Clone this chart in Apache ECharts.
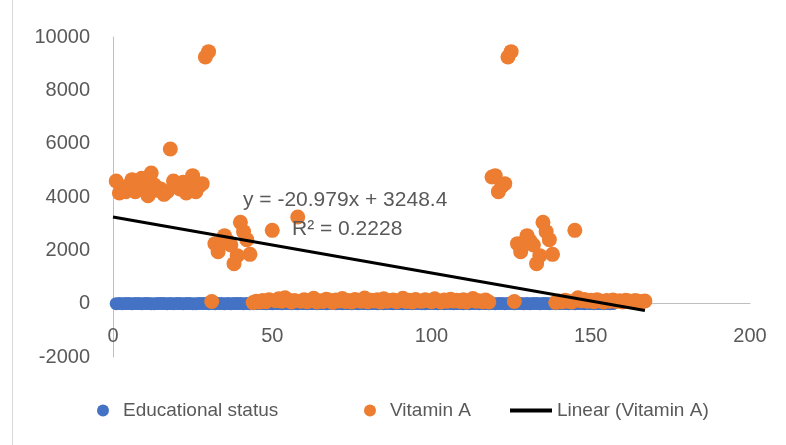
<!DOCTYPE html>
<html><head><meta charset="utf-8">
<script src="https://cdn.jsdelivr.net/npm/echarts@6/dist/echarts.min.js"></script>
<style>html,body{margin:0;padding:0;background:#fff}#c{width:786px;height:445px}</style>
</head><body><div id="c"></div>
<script>
const xTicks = [0, 50, 100, 150, 200];
const yTicks = [-2000, 0, 2000, 4000, 6000, 8000, 10000];
const educationalStatus = [
1,2,1,3,2,1,2,2,1,3, 2,1,1,2,3,2,1,2,1,2, 3,1,2,2,1,1,2,3,2,1,
2,1,3,2,1,2,1,2,2,3, 1,2,1,1,2,3,2,1,2,1, 2,2,1,3,2,1,2,1,2,2,
1,3,2,1,2,2,1,2,3,1, 2,1,2,2,1,3,1,2,2,1, 2,3,1,2,1,2,2,1,3,2,
1,2,2,1,2,3,1,1,2,2, 3,1,2,1,2,2,1,3,2,1, 2,1,2,3,1,2,2,1,2,1,
3,2,1,2,2,1,2,3,1,2, 1,2,2,1,3,2,1,2,1,2, 2,3,1,2,1,2,2,1,2,3,
1,2,2,1,2,1,3
];
const vitaminA = [
4600,4150,4300,4200,4450,4650,4200,4350,4700,4550,4050,4900,4450,4250,4300,4100,4200,5800,4600,4400,4300,4550,4150,4350,4800,4200,4400,4500,9250,9450,
80,2250,1950,2300,2550,2350,2200,1500,1800,3050,2700,2400,1850,
40,90,60,120,70,150,
2750,
110,180,90,220,140,60,120,
3250,
90,150,70,120,200,60,110,80,170,130,
50,140,100,190,80,120,60,160,110,90,
210,70,130,100,150,60,180,90,120,140,
70,110,200,80,130,60,160,100,90,150,
120,70,180,110,60,140,90,170,100,130,
80,150,60,120,190,90,110,70,140,
60,
4750,4800,4200,4400,4500,9250,9450,
80,
2250,1950,2300,2550,2350,2200,1500,1800,3050,2700,2400,1850,
50,100,70,130,90,60,
2750,
220,110,160,90,130,70,150,100,60,120,90,140,80,110,60,130,100,70,120,90,60,100
];
const trendSlope = -20.979;
const trendIntercept = 3248.4;
const trendR2 = 0.2228;
const trendRange = [0, 167];

const toPairs = arr => arr.map((v, i) => [i + 1, v]);
const trendData = trendRange.map(x => [x, trendSlope * x + trendIntercept]);

const txt = '#595959';
const fontFam = "'Liberation Sans', Arial, sans-serif";
const chart = echarts.init(document.getElementById('c'));
chart.setOption({
  animation: false,
  backgroundColor: '#fff',
  grid: { left: 113, right: 36, top: 37, bottom: 88, containLabel: false },
  xAxis: {
    type: 'value', min: xTicks[0], max: xTicks[xTicks.length - 1], interval: 50,
    axisLine: { show: true, onZero: true, lineStyle: { color: '#bfbfbf', width: 1 } },
    axisTick: { show: false }, splitLine: { show: false },
    axisLabel: { color: txt, fontSize: 20, fontFamily: fontFam, margin: -31 }
  },
  yAxis: {
    type: 'value', min: yTicks[0], max: yTicks[yTicks.length - 1], interval: 2000,
    axisLine: { show: true, onZero: false, lineStyle: { color: '#bfbfbf', width: 1 } },
    axisTick: { show: false }, splitLine: { show: false },
    axisLabel: { color: txt, fontSize: 20, fontFamily: fontFam, margin: 23, formatter: v => String(v) }
  },
  legend: [
    { data: [{ name: 'Educational status', icon: 'circle' }], left: 92, top: 396, itemWidth: 30, itemHeight: 12,
      textStyle: { color: txt, fontSize: 19, fontFamily: fontFam } },
    { data: [{ name: 'Vitamin A', icon: 'circle' }], left: 359, top: 396, itemWidth: 30, itemHeight: 12,
      textStyle: { color: txt, fontSize: 19, fontFamily: fontFam } },
    { data: [{ name: 'Linear (Vitamin A)', icon: 'rect' }], left: 505, top: 396, itemWidth: 42, itemHeight: 4,
      textStyle: { color: txt, fontSize: 19, fontFamily: fontFam } }
  ],
  graphic: [
    { type: 'line', shape: { x1: 12.5, y1: 0, x2: 12.5, y2: 445 }, style: { stroke: '#d9d9d9', lineWidth: 1 } },
    { type: 'text', left: 243, top: 190, style: { text: 'y = -20.979x + 3248.4', fill: txt, font: "21px 'Liberation Sans', Arial, sans-serif" }, z: 100 },
    { type: 'text', left: 292, top: 219, style: { text: 'R² = ' + trendR2, fill: txt, font: "21px 'Liberation Sans', Arial, sans-serif" }, z: 100 }
  ],
  series: [
    { name: 'Educational status', type: 'scatter', symbol: 'circle', symbolSize: 13,
      itemStyle: { color: '#4472C4', opacity: 1 }, data: toPairs(educationalStatus), z: 2 },
    { name: 'Vitamin A', type: 'scatter', symbol: 'circle', symbolSize: 15,
      itemStyle: { color: '#ED7D31', opacity: 1 }, data: toPairs(vitaminA), z: 3 },
    { name: 'Linear (Vitamin A)', type: 'line', showSymbol: false, symbol: 'none',
      lineStyle: { color: '#000', width: 3 }, itemStyle: { color: '#000' },
      data: trendData, z: 4 }
  ]
});
</script></body></html>
